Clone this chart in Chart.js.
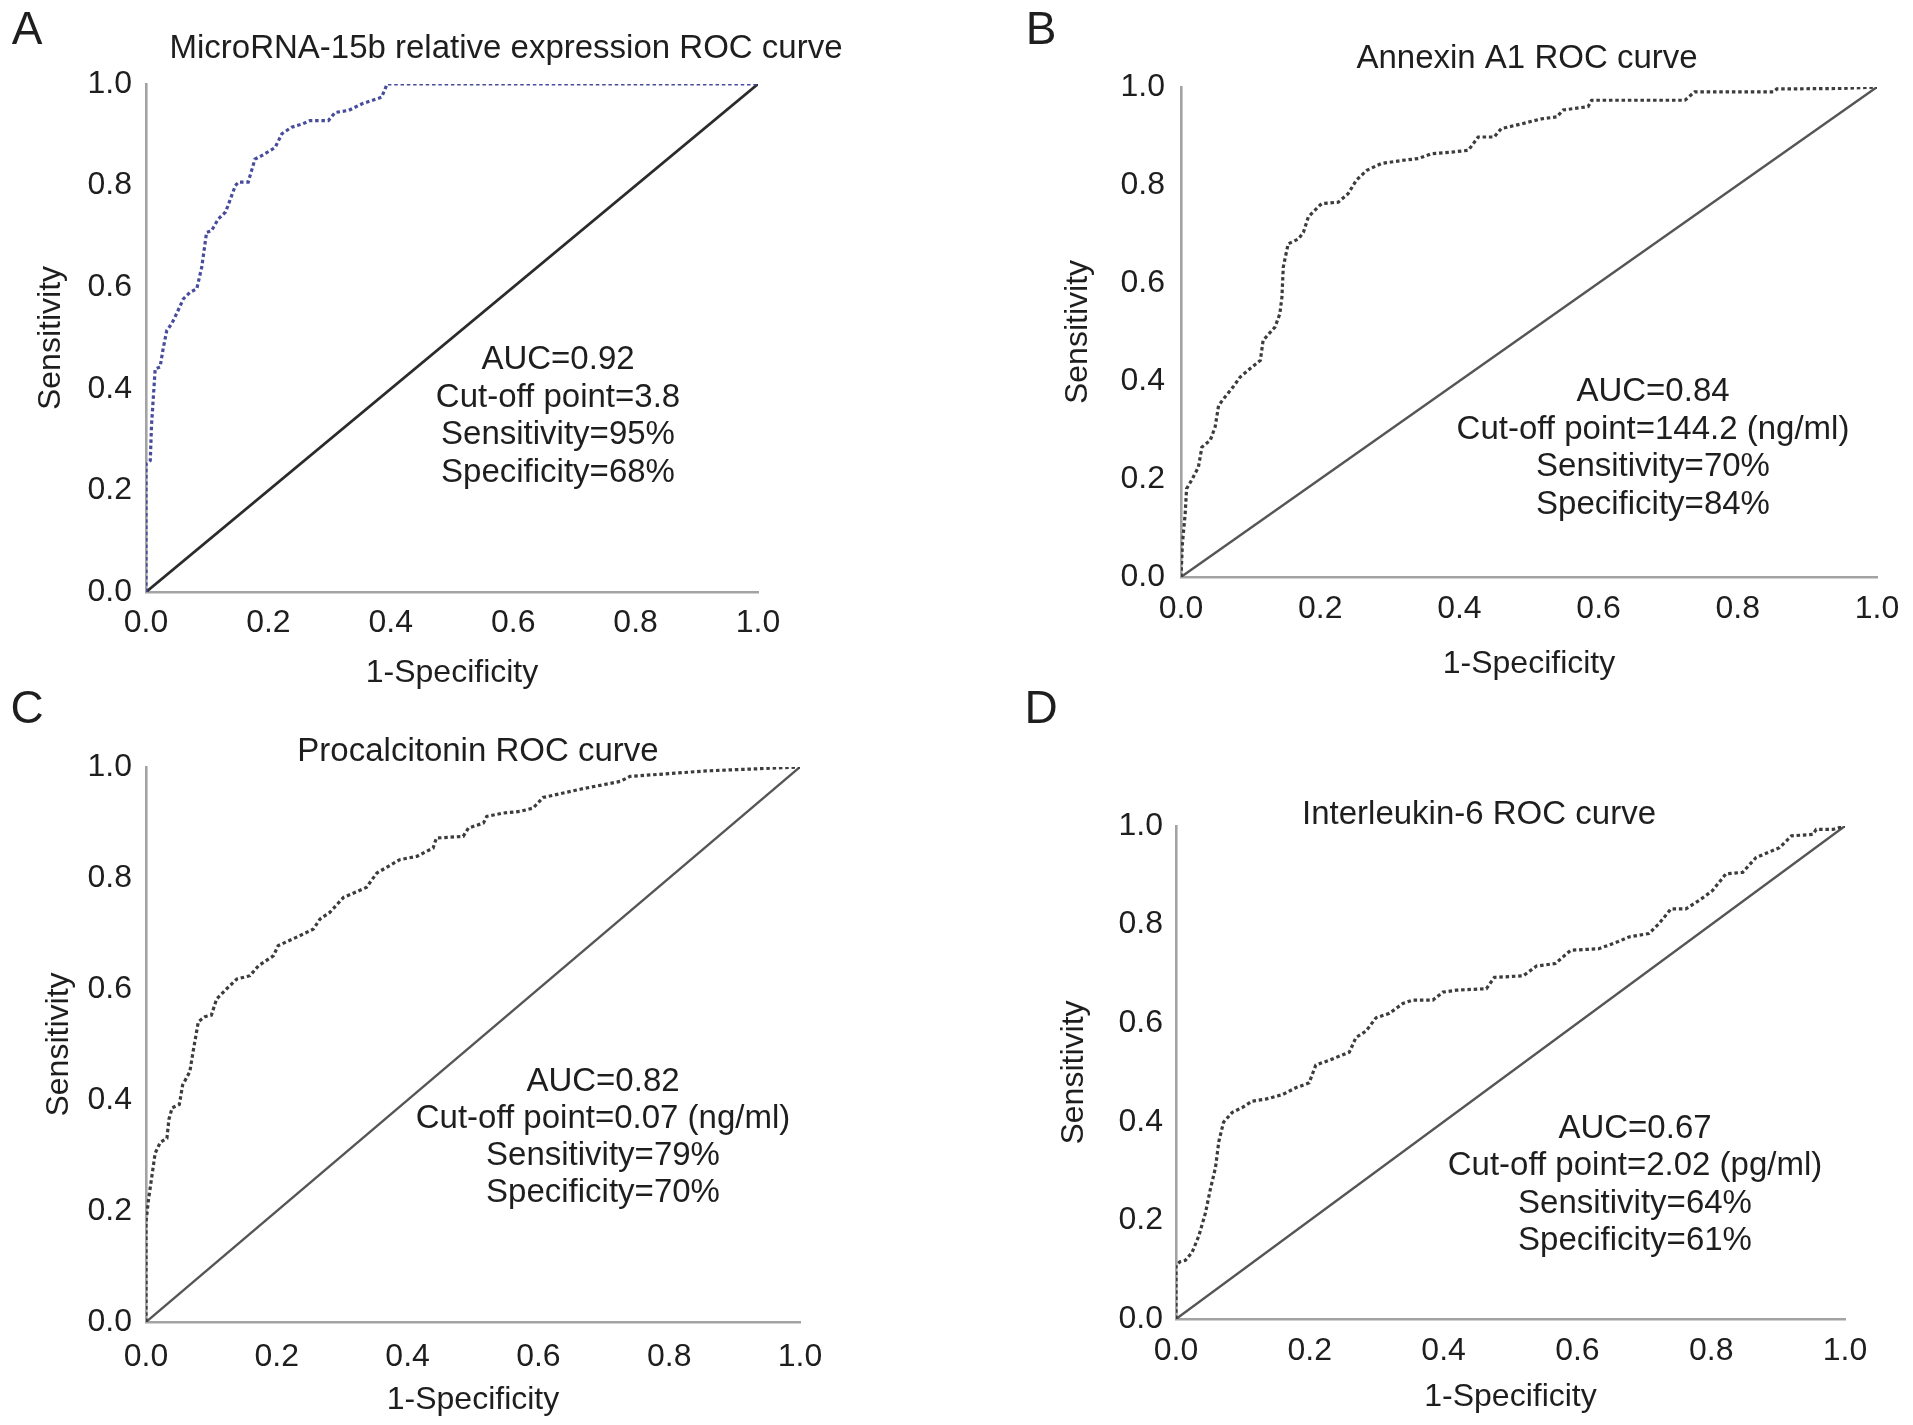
<!DOCTYPE html>
<html>
<head>
<meta charset="utf-8">
<title>ROC curves</title>
<script src="https://cdn.jsdelivr.net/npm/chart.js@4.4.1/dist/chart.umd.min.js"></script>
<style>
  html, body { margin: 0; padding: 0; background: #fff; }
  #page { position: relative; width: 1913px; height: 1425px; overflow: hidden; background: #fff; }
  #page canvas { position: absolute; }
</style>
</head>
<body>
<div id="page">
  <canvas id="roc-a" width="956" height="712" style="left:0px;top:0px"></canvas>
  <canvas id="roc-b" width="957" height="712" style="left:956px;top:0px"></canvas>
  <canvas id="roc-c" width="956" height="745" style="left:0px;top:680px"></canvas>
  <canvas id="roc-d" width="957" height="745" style="left:956px;top:680px"></canvas>
</div>
<script>
/* ---- data (x = 1-specificity, y = sensitivity) ---- */
const tickLabels = ['0.0', '0.2', '0.4', '0.6', '0.8', '1.0'];
const xTitle = '1-Specificity';
const yTitle = 'Sensitivity';

const diagX = [0, 1];
const diagY = [0, 1];

/* A - microRNA-15b */
const mirFpr = [0, 0, 0.007, 0.009, 0.015, 0.023, 0.028, 0.034, 0.042, 0.05, 0.061, 0.072, 0.083, 0.091,
  0.099, 0.107, 0.118, 0.13, 0.135, 0.146, 0.151, 0.167, 0.178, 0.189, 0.211, 0.222, 0.238, 0.255,
  0.268, 0.298, 0.309, 0.331, 0.353, 0.385, 0.394, 1.0];
const mirTpr = [0, 0.252, 0.259, 0.328, 0.439, 0.443, 0.479, 0.515, 0.528, 0.548, 0.577, 0.590, 0.597, 0.639,
  0.708, 0.711, 0.734, 0.748, 0.764, 0.800, 0.807, 0.807, 0.852, 0.859, 0.875, 0.902, 0.915, 0.921,
  0.928, 0.928, 0.944, 0.948, 0.961, 0.974, 1.0, 1.0];

/* B - Annexin A1 */
const anxFpr = [0, 0.002, 0.006, 0.008, 0.015, 0.025, 0.03, 0.042, 0.049, 0.054, 0.063, 0.075, 0.085, 0.099,
  0.114, 0.118, 0.135, 0.142, 0.145, 0.147, 0.154, 0.169, 0.176, 0.183, 0.202, 0.226, 0.24, 0.252,
  0.267, 0.288, 0.317, 0.341, 0.36, 0.389, 0.413, 0.427, 0.45, 0.46, 0.49, 0.518, 0.540, 0.549,
  0.585, 0.590, 0.724, 0.738, 0.851, 0.856, 0.95, 1.0];
const anxTpr = [0, 0.068, 0.129, 0.180, 0.197, 0.224, 0.265, 0.279, 0.306, 0.350, 0.367, 0.388, 0.408, 0.425,
  0.442, 0.483, 0.510, 0.537, 0.571, 0.633, 0.680, 0.690, 0.704, 0.735, 0.762, 0.765, 0.782, 0.810,
  0.830, 0.844, 0.850, 0.854, 0.864, 0.867, 0.871, 0.898, 0.898, 0.915, 0.925, 0.935, 0.939, 0.953,
  0.960, 0.973, 0.973, 0.990, 0.990, 0.996, 0.997, 1.0];

/* C - Procalcitonin */
const pctFpr = [0, 0, 0.004, 0.009, 0.014, 0.022, 0.032, 0.035, 0.040, 0.051, 0.056, 0.067, 0.072, 0.080,
  0.090, 0.100, 0.108, 0.123, 0.139, 0.159, 0.172, 0.195, 0.202, 0.235, 0.256, 0.266, 0.281, 0.302,
  0.337, 0.353, 0.388, 0.414, 0.439, 0.444, 0.485, 0.493, 0.516, 0.521, 0.546, 0.572, 0.592, 0.607,
  0.664, 0.725, 0.740, 0.857, 1.0];
const pctTpr = [0, 0.181, 0.222, 0.263, 0.304, 0.324, 0.331, 0.365, 0.386, 0.392, 0.427, 0.451, 0.487, 0.541,
  0.550, 0.553, 0.582, 0.600, 0.618, 0.624, 0.642, 0.660, 0.678, 0.696, 0.708, 0.726, 0.738, 0.765,
  0.783, 0.809, 0.833, 0.839, 0.854, 0.872, 0.875, 0.890, 0.899, 0.911, 0.917, 0.920, 0.926, 0.945,
  0.960, 0.974, 0.983, 0.993, 1.0];

/* D - Interleukin-6 */
const il6Fpr = [0, 0, 0.006, 0.014, 0.024, 0.034, 0.044, 0.051, 0.059, 0.064, 0.071, 0.084, 0.099, 0.114,
  0.134, 0.159, 0.179, 0.199, 0.209, 0.229, 0.259, 0.269, 0.284, 0.299, 0.319, 0.339, 0.354, 0.384,
  0.399, 0.419, 0.464, 0.476, 0.519, 0.539, 0.567, 0.590, 0.632, 0.660, 0.677, 0.707, 0.722, 0.740,
  0.762, 0.782, 0.802, 0.822, 0.847, 0.867, 0.902, 0.920, 0.952, 0.957, 0.982, 1.0];
const il6Tpr = [0, 0.109, 0.116, 0.119, 0.135, 0.168, 0.215, 0.261, 0.307, 0.360, 0.399, 0.419, 0.429, 0.442,
  0.446, 0.455, 0.469, 0.479, 0.515, 0.525, 0.541, 0.571, 0.584, 0.611, 0.620, 0.640, 0.647, 0.647,
  0.663, 0.667, 0.670, 0.693, 0.696, 0.716, 0.721, 0.748, 0.751, 0.765, 0.775, 0.782, 0.802, 0.832,
  0.832, 0.849, 0.869, 0.903, 0.906, 0.936, 0.956, 0.980, 0.983, 0.993, 0.993, 1.0];

/* ---- texts ---- */
const titles = [
  'MicroRNA-15b relative expression ROC curve',
  'Annexin A1 ROC curve',
  'Procalcitonin ROC curve',
  'Interleukin-6 ROC curve'
];
const notesA = ['AUC=0.92', 'Cut-off point=3.8', 'Sensitivity=95%', 'Specificity=68%'];
const notesB = ['AUC=0.84', 'Cut-off point=144.2 (ng/ml)', 'Sensitivity=70%', 'Specificity=84%'];
const notesC = ['AUC=0.82', 'Cut-off point=0.07 (ng/ml)', 'Sensitivity=79%', 'Specificity=70%'];
const notesD = ['AUC=0.67', 'Cut-off point=2.02 (pg/ml)', 'Sensitivity=64%', 'Specificity=61%'];

/* ---- look ---- */
const FAMILY = '"Liberation Sans", Arial, Helvetica, sans-serif';
const TEXT = '#1e1e1e';
const AXIS = '#a3a3a3';

function toPoints(xs, ys) {
  return xs.map((v, i) => ({ x: v, y: ys[i] }));
}

/* free text: panel letter, title, AUC block */
function panelText(p) {
  return {
    id: 'panelText',
    afterDraw(chart) {
      const ctx = chart.ctx;
      ctx.save();
      ctx.fillStyle = TEXT;
      ctx.textAlign = 'center';
      ctx.textBaseline = 'middle';
      ctx.font = '300 46px ' + FAMILY;
      ctx.fillText(p.letter, p.letterAt[0], p.letterAt[1]);
      ctx.font = '33px ' + FAMILY;
      ctx.fillText(p.title, p.titleAt[0], p.titleAt[1]);
      p.notes.forEach((t, i) => ctx.fillText(t, p.notesAt[0], p.notesAt[1] + i * p.notesAt[2]));
      ctx.restore();
    }
  };
}

function buildRoc(id, p) {
  const L = p.layout;
  return new Chart(document.getElementById(id), {
    type: 'line',
    data: {
      datasets: [
        {
          data: toPoints(p.fpr, p.tpr),
          borderColor: p.curveColor,
          borderWidth: 3.2,
          borderDash: [3.5, 2.8],
          pointRadius: 0,
          tension: 0,
          fill: false,
        },
        {
          data: toPoints(diagX, diagY),
          borderColor: p.diagColor,
          borderWidth: p.diagWidth,
          pointRadius: 0,
          tension: 0,
          fill: false,
        },
      ],
    },
    options: {
      responsive: false,
      animation: false,
      devicePixelRatio: 1,
      events: [],
      layout: { padding: L.pad },
      plugins: {
        legend: { display: false },
        tooltip: { enabled: false },
        title: { display: false },
      },
      scales: {
        x: {
          type: 'linear',
          min: 0,
          max: 1,
          grid: { display: false, drawTicks: false },
          border: { display: true, color: AXIS, width: 2.6 },
          ticks: {
            stepSize: 0.2,
            maxRotation: 0,
            autoSkip: false,
            padding: L.xTickPad,
            color: TEXT,
            font: { family: FAMILY, size: 32, lineHeight: 1.2 },
            callback: (v, i) => tickLabels[i],
          },
          title: {
            display: true,
            text: xTitle,
            color: TEXT,
            padding: { top: 0, bottom: L.xTitlePad },
            font: { family: FAMILY, size: 32, lineHeight: 1.2 },
          },
          afterFit: s => { s.height = L.xHeight; },
        },
        y: {
          type: 'linear',
          min: 0,
          max: 1,
          grid: { display: false, drawTicks: false },
          border: { display: true, color: AXIS, width: 2.6 },
          ticks: {
            stepSize: 0.2,
            autoSkip: false,
            padding: L.yTickPad,
            color: TEXT,
            font: { family: FAMILY, size: 32, lineHeight: 1.2 },
            callback: (v, i) => tickLabels[i],
          },
          title: {
            display: true,
            text: yTitle,
            color: TEXT,
            padding: { top: L.yTitlePad, bottom: 0 },
            font: { family: FAMILY, size: 32, lineHeight: 1.2 },
          },
          afterFit: s => { s.width = L.yWidth; },
        },
      },
    },
    plugins: [panelText(p)],
  });
}

buildRoc('roc-a', {
  fpr: mirFpr, tpr: mirTpr, curveColor: '#484c9c', diagColor: '#2b2b2b', diagWidth: 2.8,
  letter: 'A', title: titles[0], notes: notesA,
  letterAt: [27, 31], titleAt: [506, 49], notesAt: [558, 360, 37.5],
  layout: { pad: { left: 0, top: 84, right: 198, bottom: 0 },
            yWidth: 146, yTickPad: 14, yTitlePad: 32, xHeight: 120, xTickPad: 12, xTitlePad: 20 },
});

buildRoc('roc-b', {
  fpr: anxFpr, tpr: anxTpr, curveColor: '#3c3c3c', diagColor: '#555555', diagWidth: 2.4,
  letter: 'B', title: titles[1], notes: notesB,
  letterAt: [85, 31], titleAt: [571, 59], notesAt: [697, 392, 37.5],
  layout: { pad: { left: 0, top: 87, right: 36, bottom: 0 },
            yWidth: 225, yTickPad: 16, yTitlePad: 103, xHeight: 135, xTickPad: 13, xTitlePad: 29 },
});

buildRoc('roc-c', {
  fpr: pctFpr, tpr: pctTpr, curveColor: '#3c3c3c', diagColor: '#555555', diagWidth: 2.4,
  letter: 'C', title: titles[2], notes: notesC,
  letterAt: [27, 30], titleAt: [478, 72], notesAt: [603, 402, 37],
  layout: { pad: { left: 0, top: 87, right: 156, bottom: 0 },
            yWidth: 146, yTickPad: 14, yTitlePad: 40, xHeight: 103, xTickPad: 16, xTitlePad: 6 },
});

buildRoc('roc-d', {
  fpr: il6Fpr, tpr: il6Tpr, curveColor: '#3c3c3c', diagColor: '#555555', diagWidth: 2.4,
  letter: 'D', title: titles[3], notes: notesD,
  letterAt: [85, 30], titleAt: [523, 135], notesAt: [679, 449, 37.3],
  layout: { pad: { left: 0, top: 146, right: 68, bottom: 0 },
            yWidth: 220, yTickPad: 13, yTitlePad: 99, xHeight: 106, xTickPad: 13, xTitlePad: 9 },
});
</script>
</body>
</html>
